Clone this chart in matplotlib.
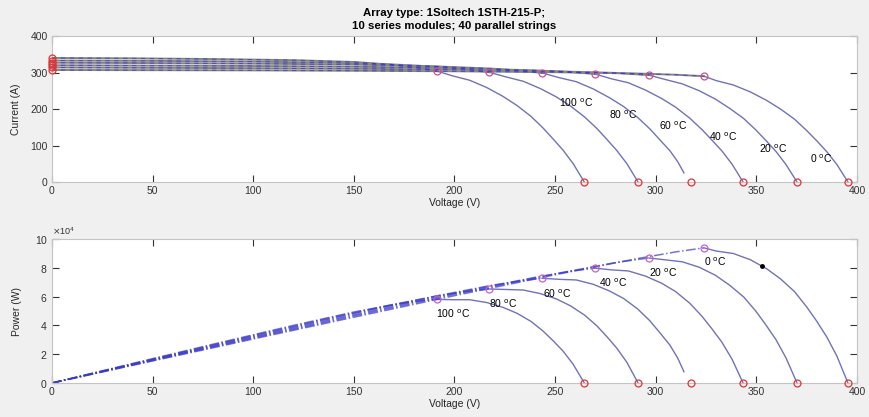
import matplotlib.pyplot as plt
from matplotlib.ticker import ScalarFormatter

plt.rcParams['font.family'] = ['Liberation Sans', 'DejaVu Sans']

temps = [100, 80, 60, 40, 20, 0]

# I-V curves (voltage V, current A), one per temperature
v_100 = [0, 40, 80, 120, 150, 168, 181, 191.3, 199, 207.5, 216, 224, 231, 238, 244, 249, 254, 259, 264.5]
i_100 = [340, 339, 337, 334, 329, 322, 314, 304, 291, 279, 259, 235, 210, 180, 148, 118, 87, 50, 0]
v_80 = [0, 50, 100, 140, 170, 192, 206, 217.1, 225.7, 234.2, 242.7, 250.7, 257.7, 264.7, 270.7, 275.7, 280.7, 285.7, 291.2]
i_80 = [333, 332, 330, 327, 322, 316, 309, 301, 288, 276, 256, 233, 208, 178, 147, 117, 86, 50, 0]
v_60 = [0, 50, 100, 150, 190, 218, 233, 243.5, 252, 260.5, 269, 277, 284, 291, 297, 302, 307, 311, 314]
i_60 = [327, 326, 324.5, 322, 317, 311, 305, 299, 286, 275, 255, 231, 207, 177, 146, 116, 86, 55, 25]
v_40 = [0, 50, 100, 150, 200, 240, 259, 269.8, 277.9, 286.4, 294.9, 302.9, 309.9, 316.9, 322.9, 327.9, 332.9, 337.9, 343.4]
i_40 = [320, 319, 318, 316, 312, 306, 301, 296, 283, 272, 252, 229, 205, 175, 144, 115, 85, 49, 0]
v_20 = [0, 50, 100, 150, 200, 250, 280, 296.6, 304.7, 313.2, 321.7, 329.7, 336.7, 343.7, 349.7, 354.7, 359.7, 364.7, 370.2]
i_20 = [314, 313, 312, 310.5, 308, 303.5, 299, 293, 281, 269, 250, 227, 202, 174, 143, 114, 84, 48, 0]
v_0 = [0, 50, 100, 150, 200, 250, 290, 310, 324, 330, 338.5, 347, 355, 362, 369, 375, 380, 385, 390, 395.5]
i_0 = [307, 306.5, 306, 305, 303.5, 301, 297.5, 294, 290, 278, 266, 247, 224, 200, 172, 141, 113, 83, 48, 0]

v_curves = [v_100, v_80, v_60, v_40, v_20, v_0]
i_curves = [i_100, i_80, i_60, i_40, i_20, i_0]

# key points
v_mpp = [191.3, 217.1, 243.5, 269.8, 296.6, 324.0]
i_mpp = [304, 301, 299, 296, 293, 290]
v_oc = [264.5, 291.2, 317.5, 343.4, 370.2, 395.5]
i_sc = [340, 333, 327, 320, 314, 307]

# label positions
lab_iv_v = [260.4, 283.7, 308.6, 333.4, 358.3, 382]
lab_iv_i = [216, 183, 153, 123, 90, 63]
lab_pv_v = [199.3, 224.1, 251, 278.8, 303.6, 329.4]
lab_pv_p = [48300, 55200, 62000, 69700, 76600, 84100]

dot_v, dot_p = 353, 81250

curve_col = '#7073b8'
fig = plt.figure(figsize=(8.69, 4.17), dpi=100, facecolor='#f0f0f0')
ax1 = fig.add_axes([0.0598, 0.5635, 0.9264, 0.350])
ax2 = fig.add_axes([0.0598, 0.0815, 0.9264, 0.345])

for k, t in enumerate(temps):
    v = v_curves[k]
    cur = i_curves[k]
    p = [a * b for a, b in zip(v, cur)]
    n = sum(1 for a in v if a <= v_mpp[k])
    # I-V
    ax1.plot(v[:n], cur[:n], color='#858585', lw=1.4, zorder=2)
    ax1.plot(v[n - 1:], cur[n - 1:], color=curve_col, lw=1.0, zorder=2)
    ax1.plot(v[:n], cur[:n], color='#2b2bd6', lw=0.8, ls=(0, (4, 4)), alpha=0.6, zorder=3)
    # P-V
    ax2.plot(v[:n], p[:n], color='#3a3ac8', lw=1.1, ls='-.', alpha=0.7, zorder=2)
    ax2.plot(v[n - 1:], p[n - 1:], color=curve_col, lw=1.0, zorder=2)
    lbl = f'{t} $^{{\\mathrm{{o}}}}$C'
    ax1.text(lab_iv_v[k], lab_iv_i[k], lbl, fontsize=7.5, ha='center', va='center')
    ax2.text(lab_pv_v[k], lab_pv_p[k], lbl, fontsize=7.5, ha='center', va='center')

p_mpp = [a * b for a, b in zip(v_mpp, i_mpp)]
ax1.plot(v_mpp, i_mpp, 'o', ms=5, mfc='none', mec='#d0508a', mew=0.9, zorder=4)
ax1.plot(v_oc, [0] * len(v_oc), 'o', ms=5, mfc='none', mec='#e03535', mew=0.9, zorder=4, clip_on=False)
ax1.plot([0] * len(i_sc), i_sc, 'o', ms=5, mfc='none', mec='#e03535', mew=0.9, zorder=4, clip_on=False)
ax2.plot(v_mpp, p_mpp, 'o', ms=5, mfc='none', mec='#c560d0', mew=0.9, zorder=4)
ax2.plot(v_oc, [0] * len(v_oc), 'o', ms=5, mfc='none', mec='#e03535', mew=0.9, zorder=4, clip_on=False)
ax2.plot([dot_v], [dot_p], 'o', ms=2.5, color='black', zorder=5)

for ax in (ax1, ax2):
    ax.set_xlim(0, 400)
    ax.set_xticks([0, 50, 100, 150, 200, 250, 300, 350, 400])
    ax.tick_params(direction='in', length=5, top=True, right=True, labelsize=7.5,
                   colors='#333333', pad=3)
    for s in ax.spines.values():
        s.set_color('#c4c4c4')
    ax.set_xlabel('Voltage (V)', fontsize=7.5, labelpad=1, color='#262626')

ax1.set_ylim(0, 400)
ax1.set_yticks([0, 100, 200, 300, 400])
ax1.set_ylabel('Current (A)', fontsize=7.5, labelpad=7, color='#262626')
ax1.set_title('Array type: 1Soltech 1STH-215-P;\n10 series modules; 40 parallel strings',
              fontsize=8.2, fontweight='bold', pad=5, linespacing=1.45)

ax2.set_ylim(0, 100000)
ax2.set_yticks([0, 20000, 40000, 60000, 80000, 100000])
fmt = ScalarFormatter(useMathText=True)
fmt.set_scientific(True)
fmt.set_powerlimits((4, 4))
ax2.yaxis.set_major_formatter(fmt)
ax2.yaxis.get_offset_text().set_fontsize(6.5)
ax2.yaxis.get_offset_text().set_color('#333333')
ax2.set_ylabel('Power (W)', fontsize=7.5, labelpad=9, color='#262626')

fig.savefig('out.png', dpi=100, facecolor=fig.get_facecolor())
